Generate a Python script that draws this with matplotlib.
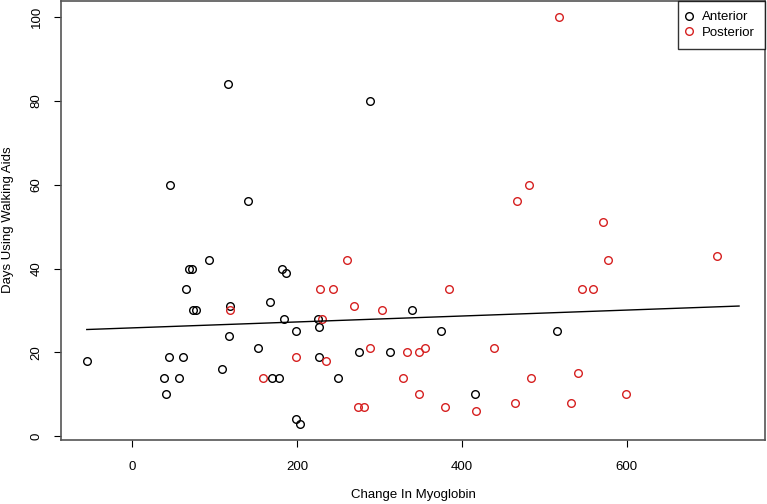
import matplotlib
matplotlib.use('Agg')
import matplotlib.pyplot as plt

plt.rcParams['font.family'] = ['Liberation Sans', 'DejaVu Sans']

# anterior group
ant_x = [116, 46, 140, 289, 93, 69, 72, 181, 186, 65, 167, 73, 77, 119, 184,
         199, 117, 153, -55, 44, 61, 109, 38, 57, 169, 178, 41, 198, 203,
         340, 225, 226, 375, 275, 313, 226, 250, 416, 516]
ant_y = [84, 60, 56, 80, 42, 40, 40, 40, 39, 35, 32, 30, 30, 31, 28,
         25, 24, 21, 18, 19, 19, 16, 14, 14, 14, 14, 10, 4, 3,
         30, 28, 26, 25, 20, 20, 19, 14, 10, 25]

# posterior group
post_x = [518, 482, 467, 572, 119, 199, 158, 260, 228, 243, 384, 269, 303, 230,
          288, 355, 439, 334, 348, 235, 329, 348, 274, 281, 379, 417, 710, 578,
          546, 559, 484, 541, 465, 533, 599]
post_y = [100, 60, 56, 51, 30, 19, 14, 42, 35, 35, 35, 31, 30, 28,
          21, 21, 21, 20, 20, 18, 14, 10, 7, 7, 7, 6, 43, 42,
          35, 35, 14, 15, 8, 8, 10]

# fitted line end points as drawn
fit_x = [-55.5, 736.7]
fit_y = [25.45, 31.05]

fig = plt.figure(figsize=(7.67, 5.04), dpi=100)
ax = fig.add_axes([61 / 767, 1 - 440 / 504, 704 / 767, 439 / 504])

ax.plot(ant_x, ant_y, 'o', mfc='none', mec='black', mew=1.0, ms=5.5, label='Anterior')
ax.plot(post_x, post_y, 'o', mfc='none', mec='#d62020', mew=1.0, ms=5.5, label='Posterior')
ax.plot(fit_x, fit_y, color='black', lw=1.0)

ax.set_xlim(-86.8, 768.2)
ax.set_ylim(-0.9, 103.8)
ax.set_xticks([0, 200, 400, 600])
ax.set_yticks([0, 20, 40, 60, 80, 100])
ax.tick_params(length=5, width=0.8, labelsize=9.5, colors='black')
ax.tick_params(axis='x', pad=9.8)
ax.tick_params(axis='y', pad=8.3)
plt.setp(ax.get_yticklabels(), rotation=90, va='center')
for s in ax.spines.values():
    s.set_color('#555555')
    s.set_linewidth(1.2)

fig.text(413 / 767, 1 - 495 / 504, 'Change In Myoglobin', ha='center', va='center', fontsize=9.5)
fig.text(8 / 767, 1 - 220 / 504, 'Days Using Walking Aids', ha='center', va='center',
         rotation=90, fontsize=9.5)

leg = ax.legend(loc='upper right', borderaxespad=0, fancybox=False, fontsize=9.5,
                handletextpad=0.9, handlelength=0.2, borderpad=0.75, labelspacing=0.25)
leg.get_frame().set_edgecolor('black')
leg.get_frame().set_linewidth(1.0)

fig.savefig('out.png', dpi=100)
